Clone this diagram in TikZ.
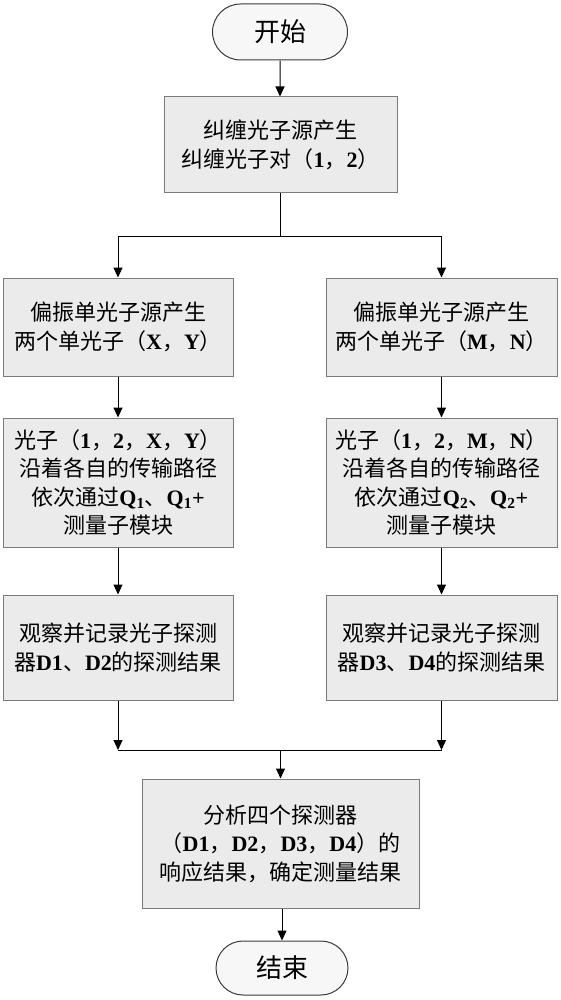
\documentclass[tikz,border=0pt]{standalone}
\usepackage{fontspec}
\setmainfont{Noto Sans CJK SC}
\newfontfamily\tnr{Liberation Serif}
\usetikzlibrary{arrows.meta,shapes.misc}
\newcommand\BL[1]{{\tnr\bfseries #1}}
\definecolor{boxfill}{HTML}{EBEBEB}
\definecolor{boxline}{HTML}{7A7A7A}
\definecolor{termfill}{HTML}{F7F7F7}
\definecolor{termline}{HTML}{3A3A3A}
\begin{document}
\begin{tikzpicture}[x=1pt,y=-1pt,
  proc/.style={draw=boxline, fill=boxfill, line width=1pt, inner sep=0pt, align=center,
    font=\fontsize{22}{28.5}\selectfont},
  term/.style={draw=termline, fill=termfill, line width=1pt, rounded rectangle, inner sep=0pt,
    font=\fontsize{26}{30}\selectfont},
  arr/.style={line width=1pt, -{Triangle[length=10pt,width=9pt]}},
  ln/.style={line width=1pt}]
\useasboundingbox (0,0) rectangle (560,1000);

\node[term, minimum width=135pt, minimum height=56pt] (start) at (280,32) {开始};
\node[proc, minimum width=233pt, minimum height=96pt] (b1) at (280.5,145)
  {纠缠光子源产生\\纠缠光子对（\BL{1}，\BL{2}）};

\node[proc, minimum width=230pt, minimum height=98pt] (l2) at (118,327)
  {偏振单光子源产生\\两个单光子（\BL{X}，\BL{Y}）};
\node[proc, minimum width=231pt, minimum height=98pt] (r2) at (441.5,327)
  {偏振单光子源产生\\两个单光子（\BL{M}，\BL{N}）};

\node[proc, minimum width=230pt, minimum height=129pt] (l3) at (118,482.5)
  {光子（\BL{1}，\BL{2}，\BL{X}，\BL{Y}）\\沿着各自的传输路径\\依次通过\BL{Q\textsubscript{1}}、\BL{Q\textsubscript{1}+}\\测量子模块};
\node[proc, minimum width=231pt, minimum height=129pt] (r3) at (441.5,482.5)
  {光子（\BL{1}，\BL{2}，\BL{M}，\BL{N}）\\沿着各自的传输路径\\依次通过\BL{Q\textsubscript{2}}、\BL{Q\textsubscript{2}+}\\测量子模块};

\node[proc, minimum width=230pt, minimum height=105pt] (l4) at (118,647.5)
  {观察并记录光子探测\\器\BL{D1}、\BL{D2}的探测结果};
\node[proc, minimum width=231pt, minimum height=105pt] (r4) at (441.5,647.5)
  {观察并记录光子探测\\器\BL{D3}、\BL{D4}的探测结果};

\node[proc, minimum width=277pt, minimum height=129pt] (b5) at (280.5,843.5)
  {分析四个探测器\\（\BL{D1}，\BL{D2}，\BL{D3}，\BL{D4}）的\\响应结果，确定测量结果};

\node[term, minimum width=132pt, minimum height=54pt] (end) at (282,968) {结束};

\coordinate (j) at (280.5,237);
\coordinate (m) at (280.5,750);

\draw[arr] (start) -- (start |- b1.north);
\draw[ln] (b1.south) -- (j);
\draw[arr] (j) -| (l2.north);
\draw[arr] (j) -| (r2.north);
\draw[arr] (l2) -- (l3);
\draw[arr] (r2) -- (r3);
\draw[arr] (l3) -- (l4);
\draw[arr] (r3) -- (r4);
\draw[arr] (l4.south) -- (l4.south |- m);
\draw[arr] (r4.south) -- (r4.south |- m);
\draw[ln] (l4.south |- m) -- (r4.south |- m);
\draw[arr] (m) -- (b5.north);
\draw[arr] (b5.south -| end) -- (end.north);
\end{tikzpicture}
\end{document}
